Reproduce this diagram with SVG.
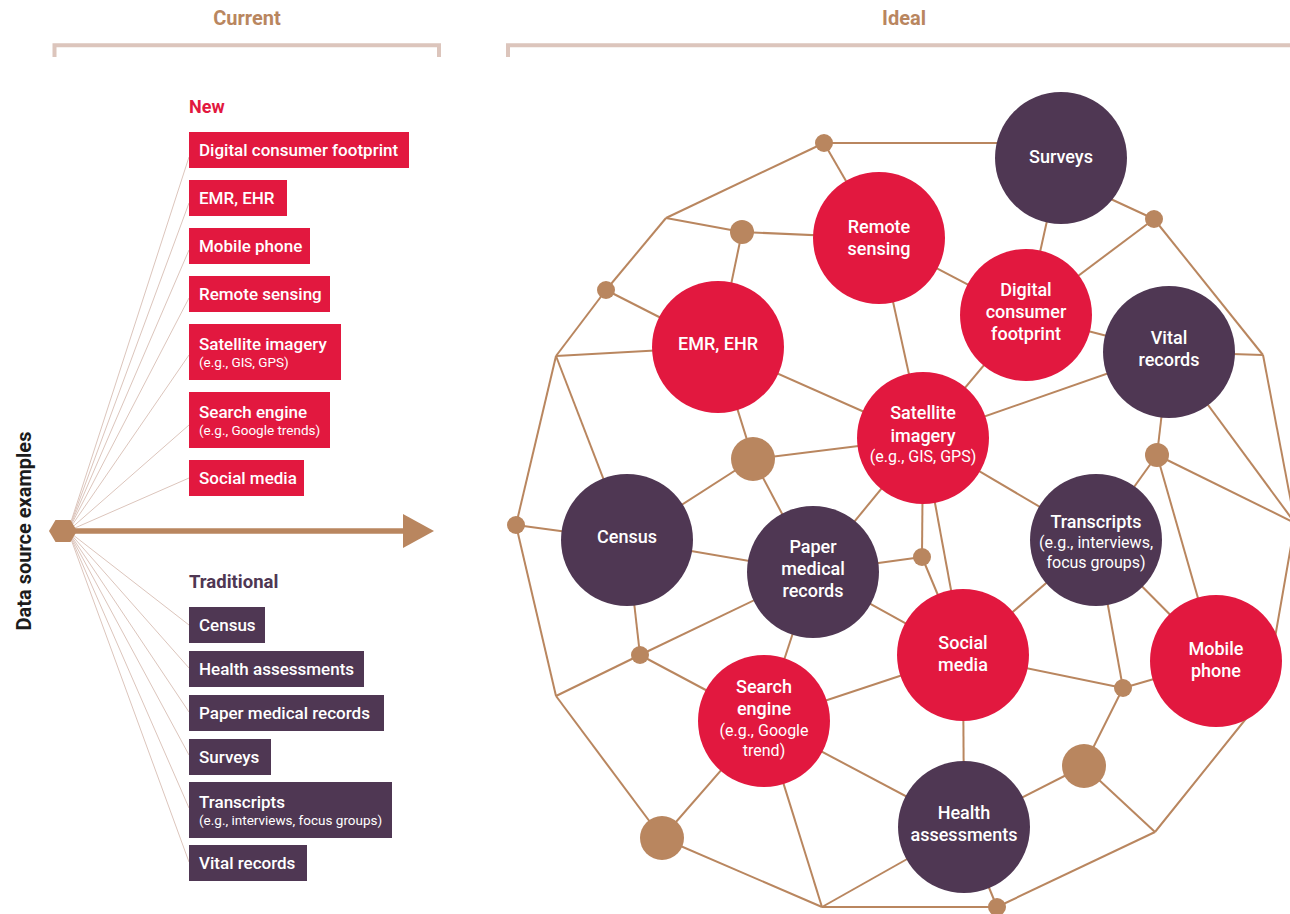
<svg xmlns="http://www.w3.org/2000/svg" width="1290" height="914" viewBox="0 0 1290 914">
<style>
text{font-family:Roboto,"Liberation Sans",sans-serif}
.hdr{font-size:20px;font-weight:700;fill:#b9865f;text-anchor:middle}
.brk{fill:none;stroke:#dcc5bc;stroke-width:4}
.fan{stroke:#dcc5bc;stroke-width:1}
.edge{stroke:#b9865f;stroke-width:2;fill:none;stroke-linejoin:round}
.red{fill:#e2183f}
.pur{fill:#4f3753}
.dot{fill:#b9865f}
.bt{font-size:17px;font-weight:500;fill:#fff}
.bs{font-size:13.5px;font-weight:400;fill:#fff}
.cl{font-size:18px;font-weight:500;fill:#fff;text-anchor:middle}
.cs{font-size:16px;font-weight:400;fill:#fff;text-anchor:middle}
</style>
<rect width="1290" height="914" fill="#fff"/>

<g id="headers">
<text class="hdr" x="247" y="25">Current</text>
<path class="brk" d="M54.5,57 V45.3 H439 V57"/>
<text class="hdr" x="904" y="25">Ideal</text>
<path class="brk" d="M508,57 V45.3 H1295"/>
</g>

<text x="31" y="531" transform="rotate(-90 31 531)" style="font-size:20px;font-weight:700;fill:#1c1c1c;text-anchor:middle">Data source examples</text>

<g id="fan">
<line class="fan" x1="68" y1="531" x2="189" y2="157"/>
<line class="fan" x1="68" y1="531" x2="189" y2="203"/>
<line class="fan" x1="68" y1="531" x2="189" y2="250"/>
<line class="fan" x1="68" y1="531" x2="189" y2="298"/>
<line class="fan" x1="68" y1="531" x2="189" y2="355"/>
<line class="fan" x1="68" y1="531" x2="189" y2="425"/>
<line class="fan" x1="68" y1="531" x2="189" y2="478"/>
<line class="fan" x1="68" y1="531" x2="189" y2="625"/>
<line class="fan" x1="68" y1="531" x2="189" y2="668"/>
<line class="fan" x1="68" y1="531" x2="189" y2="712"/>
<line class="fan" x1="68" y1="531" x2="189" y2="755"/>
<line class="fan" x1="68" y1="531" x2="189" y2="808"/>
<line class="fan" x1="68" y1="531" x2="189" y2="862"/>
</g>

<g id="main-arrow">
<line x1="63" y1="531" x2="405" y2="531" stroke="#b9865f" stroke-width="5.5"/>
<polygon points="403,514 434,531 403,548" fill="#b9865f"/>
<polygon points="49,531 55.5,520 70.5,520 77,531 70.5,542 55.5,542" fill="#b9865f"/>
</g>

<g id="new-list">
<text x="189" y="113" style="font-size:18px;font-weight:700;fill:#e2183f">New</text>
<g id="box-digital"><rect class="red" x="189" y="132" width="220" height="36"/><text class="bt" x="199" y="155.5">Digital consumer footprint</text></g>
<g id="box-emr"><rect class="red" x="189" y="180" width="98" height="36"/><text class="bt" x="199" y="203.5">EMR, EHR</text></g>
<g id="box-mobile"><rect class="red" x="189" y="228" width="121" height="36"/><text class="bt" x="199" y="251.5">Mobile phone</text></g>
<g id="box-remote"><rect class="red" x="189" y="276" width="141" height="36"/><text class="bt" x="199" y="299.5">Remote sensing</text></g>
<g id="box-satellite"><rect class="red" x="189" y="324" width="152" height="56"/><text class="bt" x="199" y="350">Satellite imagery</text><text class="bs" x="199" y="367">(e.g., GIS, GPS)</text></g>
<g id="box-search"><rect class="red" x="189" y="392" width="141" height="56"/><text class="bt" x="199" y="418">Search engine</text><text class="bs" x="199" y="435">(e.g., Google trends)</text></g>
<g id="box-social"><rect class="red" x="189" y="460" width="115" height="36"/><text class="bt" x="199" y="483.5">Social media</text></g>
</g>

<g id="traditional-list">
<text x="189" y="588" style="font-size:18.5px;font-weight:700;fill:#4f3753">Traditional</text>
<g id="box-census"><rect class="pur" x="189" y="607" width="76" height="36"/><text class="bt" x="199" y="630.5">Census</text></g>
<g id="box-health"><rect class="pur" x="189" y="651" width="175" height="36"/><text class="bt" x="199" y="674.5">Health assessments</text></g>
<g id="box-paper"><rect class="pur" x="189" y="695" width="195" height="36"/><text class="bt" x="199" y="718.5">Paper medical records</text></g>
<g id="box-surveys"><rect class="pur" x="189" y="739" width="82" height="36"/><text class="bt" x="199" y="762.5">Surveys</text></g>
<g id="box-transcripts"><rect class="pur" x="189" y="782" width="203" height="56"/><text class="bt" x="199" y="808">Transcripts</text><text class="bs" x="199" y="825">(e.g., interviews, focus groups)</text></g>
<g id="box-vital"><rect class="pur" x="189" y="845" width="118" height="36"/><text class="bt" x="199" y="868.5">Vital records</text></g>
</g>

<g id="connectors">
<line class="edge" x1="824" y1="143" x2="1010" y2="143"/>
<line class="edge" x1="824" y1="143" x2="879" y2="238"/>
<line class="edge" x1="824" y1="143" x2="666" y2="218"/>
<line class="edge" x1="666" y1="218" x2="742" y2="232"/>
<line class="edge" x1="742" y1="232" x2="879" y2="238"/>
<line class="edge" x1="742" y1="232" x2="718" y2="347"/>
<line class="edge" x1="666" y1="218" x2="606" y2="290"/>
<line class="edge" x1="606" y1="290" x2="556" y2="356"/>
<line class="edge" x1="606" y1="290" x2="718" y2="347"/>
<line class="edge" x1="556" y1="356" x2="718" y2="347"/>
<line class="edge" x1="556" y1="356" x2="516" y2="525"/>
<line class="edge" x1="556" y1="356" x2="627" y2="540"/>
<line class="edge" x1="516" y1="525" x2="627" y2="540"/>
<line class="edge" x1="516" y1="525" x2="556" y2="696"/>
<line class="edge" x1="627" y1="540" x2="640" y2="655"/>
<line class="edge" x1="640" y1="655" x2="556" y2="696"/>
<line class="edge" x1="640" y1="655" x2="813" y2="572"/>
<line class="edge" x1="640" y1="655" x2="764" y2="721"/>
<line class="edge" x1="556" y1="696" x2="662" y2="838"/>
<line class="edge" x1="662" y1="838" x2="764" y2="721"/>
<line class="edge" x1="662" y1="838" x2="822" y2="907"/>
<line class="edge" x1="764" y1="721" x2="822" y2="907"/>
<line class="edge" x1="764" y1="721" x2="964" y2="827"/>
<line class="edge" x1="764" y1="721" x2="963" y2="655"/>
<line class="edge" x1="764" y1="721" x2="813" y2="572"/>
<line class="edge" x1="822" y1="907" x2="964" y2="827"/>
<line class="edge" x1="822" y1="907" x2="997" y2="907"/>
<line class="edge" x1="997" y1="907" x2="964" y2="827"/>
<line class="edge" x1="997" y1="907" x2="1155" y2="832"/>
<line class="edge" x1="964" y1="827" x2="963" y2="655"/>
<line class="edge" x1="964" y1="827" x2="1084" y2="766"/>
<line class="edge" x1="1084" y1="766" x2="1155" y2="832"/>
<line class="edge" x1="1084" y1="766" x2="1123" y2="688"/>
<line class="edge" x1="1123" y1="688" x2="963" y2="655"/>
<line class="edge" x1="1123" y1="688" x2="1216" y2="661"/>
<line class="edge" x1="1123" y1="688" x2="1096" y2="540"/>
<line class="edge" x1="1096" y1="540" x2="963" y2="655"/>
<line class="edge" x1="1096" y1="540" x2="1216" y2="661"/>
<line class="edge" x1="1096" y1="540" x2="1157" y2="455"/>
<line class="edge" x1="1096" y1="540" x2="923" y2="438"/>
<line class="edge" x1="1157" y1="455" x2="1169" y2="352"/>
<line class="edge" x1="1157" y1="455" x2="1216" y2="661"/>
<line class="edge" x1="1157" y1="455" x2="1295" y2="523"/>
<line class="edge" x1="1169" y1="352" x2="1295" y2="523"/>
<line class="edge" x1="1169" y1="352" x2="923" y2="438"/>
<line class="edge" x1="1169" y1="352" x2="1263" y2="355"/>
<line class="edge" x1="1169" y1="352" x2="1026" y2="315"/>
<line class="edge" x1="1263" y1="355" x2="1154" y2="219"/>
<line class="edge" x1="1263" y1="355" x2="1295" y2="523"/>
<line class="edge" x1="1154" y1="219" x2="1061" y2="176"/>
<line class="edge" x1="1154" y1="219" x2="1026" y2="315"/>
<line class="edge" x1="1061" y1="158" x2="1026" y2="315"/>
<line class="edge" x1="1026" y1="315" x2="879" y2="238"/>
<line class="edge" x1="1026" y1="315" x2="923" y2="438"/>
<line class="edge" x1="879" y1="238" x2="923" y2="438"/>
<line class="edge" x1="718" y1="347" x2="923" y2="438"/>
<line class="edge" x1="718" y1="347" x2="753" y2="459"/>
<line class="edge" x1="753" y1="459" x2="923" y2="438"/>
<line class="edge" x1="753" y1="459" x2="813" y2="572"/>
<line class="edge" x1="753" y1="459" x2="627" y2="540"/>
<line class="edge" x1="627" y1="540" x2="813" y2="572"/>
<line class="edge" x1="923" y1="438" x2="813" y2="572"/>
<line class="edge" x1="923" y1="438" x2="922" y2="557"/>
<line class="edge" x1="923" y1="438" x2="963" y2="655"/>
<line class="edge" x1="922" y1="557" x2="813" y2="572"/>
<line class="edge" x1="922" y1="557" x2="963" y2="655"/>
<line class="edge" x1="813" y1="572" x2="963" y2="655"/>
<polyline class="edge" points="1295,523 1265,695 1155,832"/>
</g>

<g id="junctions">
<circle class="dot" cx="824" cy="143" r="9"/>
<circle class="dot" cx="742" cy="232" r="12"/>
<circle class="dot" cx="606" cy="290" r="9"/>
<circle class="dot" cx="1154" cy="219" r="9"/>
<circle class="dot" cx="753" cy="459" r="22"/>
<circle class="dot" cx="516" cy="525" r="9"/>
<circle class="dot" cx="922" cy="557" r="9"/>
<circle class="dot" cx="1157" cy="455" r="12"/>
<circle class="dot" cx="640" cy="655" r="9"/>
<circle class="dot" cx="1123" cy="688" r="9"/>
<circle class="dot" cx="1084" cy="766" r="22"/>
<circle class="dot" cx="662" cy="838" r="22"/>
<circle class="dot" cx="997" cy="907" r="9"/>
</g>

<g id="node-surveys"><circle class="pur" cx="1061" cy="158" r="66"/><text class="cl" x="1061" y="163">Surveys</text></g>
<g id="node-remote"><circle class="red" cx="879" cy="238" r="66"/><text class="cl" x="879" y="233">Remote</text><text class="cl" x="879" y="255">sensing</text></g>
<g id="node-digital"><circle class="red" cx="1026" cy="315" r="66"/><text class="cl" x="1026" y="296">Digital</text><text class="cl" x="1026" y="318">consumer</text><text class="cl" x="1026" y="340">footprint</text></g>
<g id="node-vital"><circle class="pur" cx="1169" cy="352" r="66"/><text class="cl" x="1169" y="344">Vital</text><text class="cl" x="1169" y="366">records</text></g>
<g id="node-emr"><circle class="red" cx="718" cy="347" r="66"/><text class="cl" x="718" y="350">EMR, EHR</text></g>
<g id="node-satellite"><circle class="red" cx="923" cy="438" r="66"/><text class="cl" x="923" y="419">Satellite</text><text class="cl" x="923" y="442">imagery</text><text class="cs" x="923" y="462">(e.g., GIS, GPS)</text></g>
<g id="node-census"><circle class="pur" cx="627" cy="540" r="66"/><text class="cl" x="627" y="543">Census</text></g>
<g id="node-paper"><circle class="pur" cx="813" cy="572" r="66"/><text class="cl" x="813" y="553">Paper</text><text class="cl" x="813" y="575">medical</text><text class="cl" x="813" y="597">records</text></g>
<g id="node-transcripts"><circle class="pur" cx="1096" cy="540" r="66"/><text class="cl" x="1096" y="528">Transcripts</text><text class="cs" x="1096" y="548">(e.g., interviews,</text><text class="cs" x="1096" y="568">focus groups)</text></g>
<g id="node-social"><circle class="red" cx="963" cy="655" r="66"/><text class="cl" x="963" y="649">Social</text><text class="cl" x="963" y="671">media</text></g>
<g id="node-mobile"><circle class="red" cx="1216" cy="661" r="66"/><text class="cl" x="1216" y="655">Mobile</text><text class="cl" x="1216" y="677">phone</text></g>
<g id="node-search"><circle class="red" cx="764" cy="721" r="66"/><text class="cl" x="764" y="693">Search</text><text class="cl" x="764" y="715">engine</text><text class="cs" x="764" y="736">(e.g., Google</text><text class="cs" x="764" y="756">trend)</text></g>
<g id="node-health"><circle class="pur" cx="964" cy="827" r="66"/><text class="cl" x="964" y="819">Health</text><text class="cl" x="964" y="841">assessments</text></g>
</svg>
